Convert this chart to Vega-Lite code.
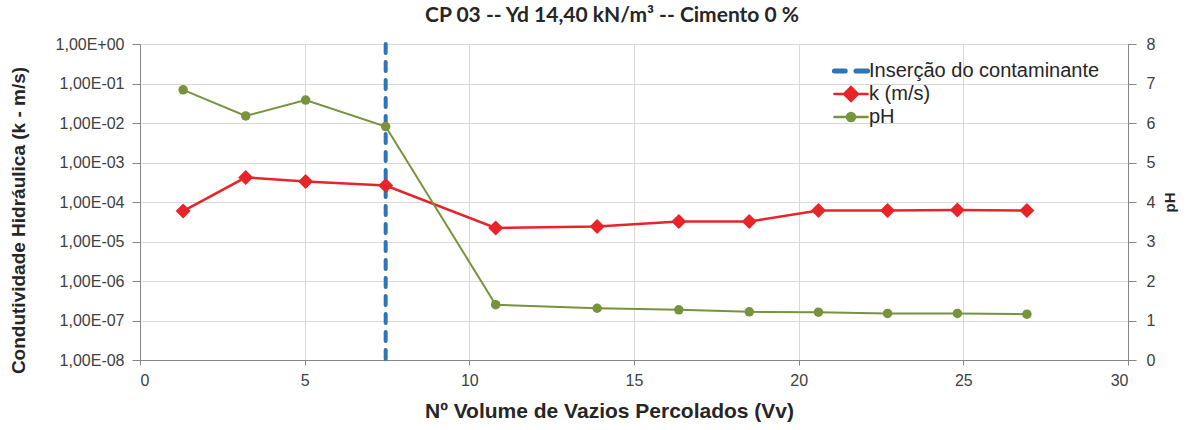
{
  "$schema": "https://vega.github.io/schema/vega-lite/v6.json",
  "width": 988,
  "height": 316,
  "autosize": {"type": "none"},
  "padding": {"left": 140, "top": 44, "right": 66, "bottom": 70},
  "background": "white",
  "title": {
    "text": "CP 03 -- Yd 14,40 kN/m³ -- Cimento 0 %",
    "font": "Lato",
    "fontSize": 21,
    "fontWeight": "bold",
    "color": "#262626",
    "anchor": "middle",
    "offset": 10,
    "dx": -22
  },
  "config": {
    "view": {"stroke": null},
    "axis": {
      "labelFont": "Liberation Sans",
      "labelFontSize": 16,
      "labelColor": "#404040",
      "titleFont": "Liberation Sans",
      "titleFontWeight": "bold",
      "titleFontSize": 19,
      "titleColor": "#262626",
      "gridColor": "#d9d9d9",
      "domainColor": "#868686",
      "tickColor": "#868686",
      "tickSize": 8
    },
    "legend": {
      "labelFont": "Liberation Sans",
      "labelFontSize": 20,
      "labelColor": "#262626",
      "labelLimit": 400
    }
  },
  "datasets": {
    "ensaio": [
      {"Vv": 1.31, "k": 5.9e-5, "pH": 6.84},
      {"Vv": 3.21, "k": 4.2e-4, "pH": 6.18},
      {"Vv": 5.03, "k": 3.3e-4, "pH": 6.58},
      {"Vv": 7.46, "k": 2.6e-4, "pH": 5.91},
      {"Vv": 10.8, "k": 2.2e-5, "pH": 1.4},
      {"Vv": 13.88, "k": 2.4e-5, "pH": 1.31},
      {"Vv": 16.36, "k": 3.2e-5, "pH": 1.27},
      {"Vv": 18.5, "k": 3.2e-5, "pH": 1.22},
      {"Vv": 20.6, "k": 6.1e-5, "pH": 1.21},
      {"Vv": 22.7, "k": 6.1e-5, "pH": 1.18},
      {"Vv": 24.82, "k": 6.3e-5, "pH": 1.18},
      {"Vv": 26.93, "k": 6.1e-5, "pH": 1.16}
    ],
    "insercao": [{"Vv": 7.46}]
  },
  "layer": [
    {
      "data": {"name": "insercao"},
      "mark": {"type": "rule", "strokeWidth": 4, "strokeDash": [9, 9], "strokeCap": "round"},
      "encoding": {
        "x": {"field": "Vv", "type": "quantitative", "scale": {"domain": [0, 30]}},
        "color": {"datum": "Inserção do contaminante"}
      }
    },
    {
      "data": {"name": "ensaio"},
      "encoding": {
        "x": {
          "field": "Vv",
          "type": "quantitative",
          "scale": {"domain": [0, 30]},
          "axis": {
            "values": [0, 5, 10, 15, 20, 25, 30],
            "title": "Nº Volume de Vazios Percolados (Vv)",
            "titleFontSize": 21,
            "titleX": 469,
            "grid": true,
            "tickSize": 5,
            "labelPadding": 7,
            "titlePadding": 12
          }
        },
        "y": {
          "field": "k",
          "type": "quantitative",
          "scale": {"type": "log", "domain": [1e-8, 1]},
          "axis": {
            "orient": "left",
            "values": [1e-8, 1e-7, 1e-6, 1e-5, 1e-4, 1e-3, 1e-2, 1e-1, 1],
            "labelExpr": "'1,00E' + (round(log(datum.value)/LN10) < 0 ? '-' : '+') + pad('' + abs(round(log(datum.value)/LN10)), 2, '0', 'left')",
            "title": "Condutividade Hidráulica  (k - m/s)",
            "titleY": 176,
            "grid": true,
            "labelPadding": 8,
            "titlePadding": 27
          }
        },
        "color": {
          "datum": "k (m/s)",
          "scale": {
            "domain": ["Inserção do contaminante", "k (m/s)", "pH"],
            "range": ["#2E75B6", "#E8242A", "#77933C"]
          },
          "legend": {
            "orient": "none",
            "legendX": 701,
            "legendY": 17,
            "title": null,
            "symbolSize": 1100,
            "rowPadding": 1,
            "labelOffset": 8,
            "padding": 0,
            "encode": {
              "symbols": {
                "update": {
                  "shape": {"signal": "datum.value === 'Inserção do contaminante' ? 'M-1,0H-0.35M0.3,0H1' : datum.value === 'k (m/s)' ? 'M-1,0H1M0,-0.42L0.42,0L0,0.42L-0.42,0Z' : 'M-1,0H1M-0.24,0A0.24,0.24,0,1,1,0.24,0A0.24,0.24,0,1,1,-0.24,0Z'"},
                  "stroke": {"scale": "color", "field": "value"},
                  "fill": {"scale": "color", "field": "value"},
                  "strokeWidth": {"signal": "datum.value === 'Inserção do contaminante' ? 5 : 2.5"},
                  "strokeCap": {"value": "round"},
                  "opacity": {"value": 1}
                }
              }
            }
          }
        }
      },
      "layer": [
        {"mark": {"type": "line", "strokeWidth": 2.5}},
        {"mark": {"type": "point", "shape": "diamond", "filled": true, "size": 225, "opacity": 1}}
      ]
    },
    {
      "data": {"name": "ensaio"},
      "encoding": {
        "x": {"field": "Vv", "type": "quantitative", "scale": {"domain": [0, 30]}},
        "y": {
          "field": "pH",
          "type": "quantitative",
          "scale": {"domain": [0, 8]},
          "axis": {
            "orient": "right",
            "values": [0, 1, 2, 3, 4, 5, 6, 7, 8],
            "title": "pH",
            "titleFontSize": 15,
            "titleAngle": 270,
            "titleBaseline": "top",
            "grid": false,
            "labelPadding": 10,
            "titlePadding": 8
          }
        },
        "color": {"datum": "pH"}
      },
      "layer": [
        {"mark": {"type": "line", "strokeWidth": 2}},
        {"mark": {"type": "point", "shape": "circle", "filled": true, "size": 90, "opacity": 1}}
      ]
    }
  ],
  "resolve": {"scale": {"y": "independent"}}
}
